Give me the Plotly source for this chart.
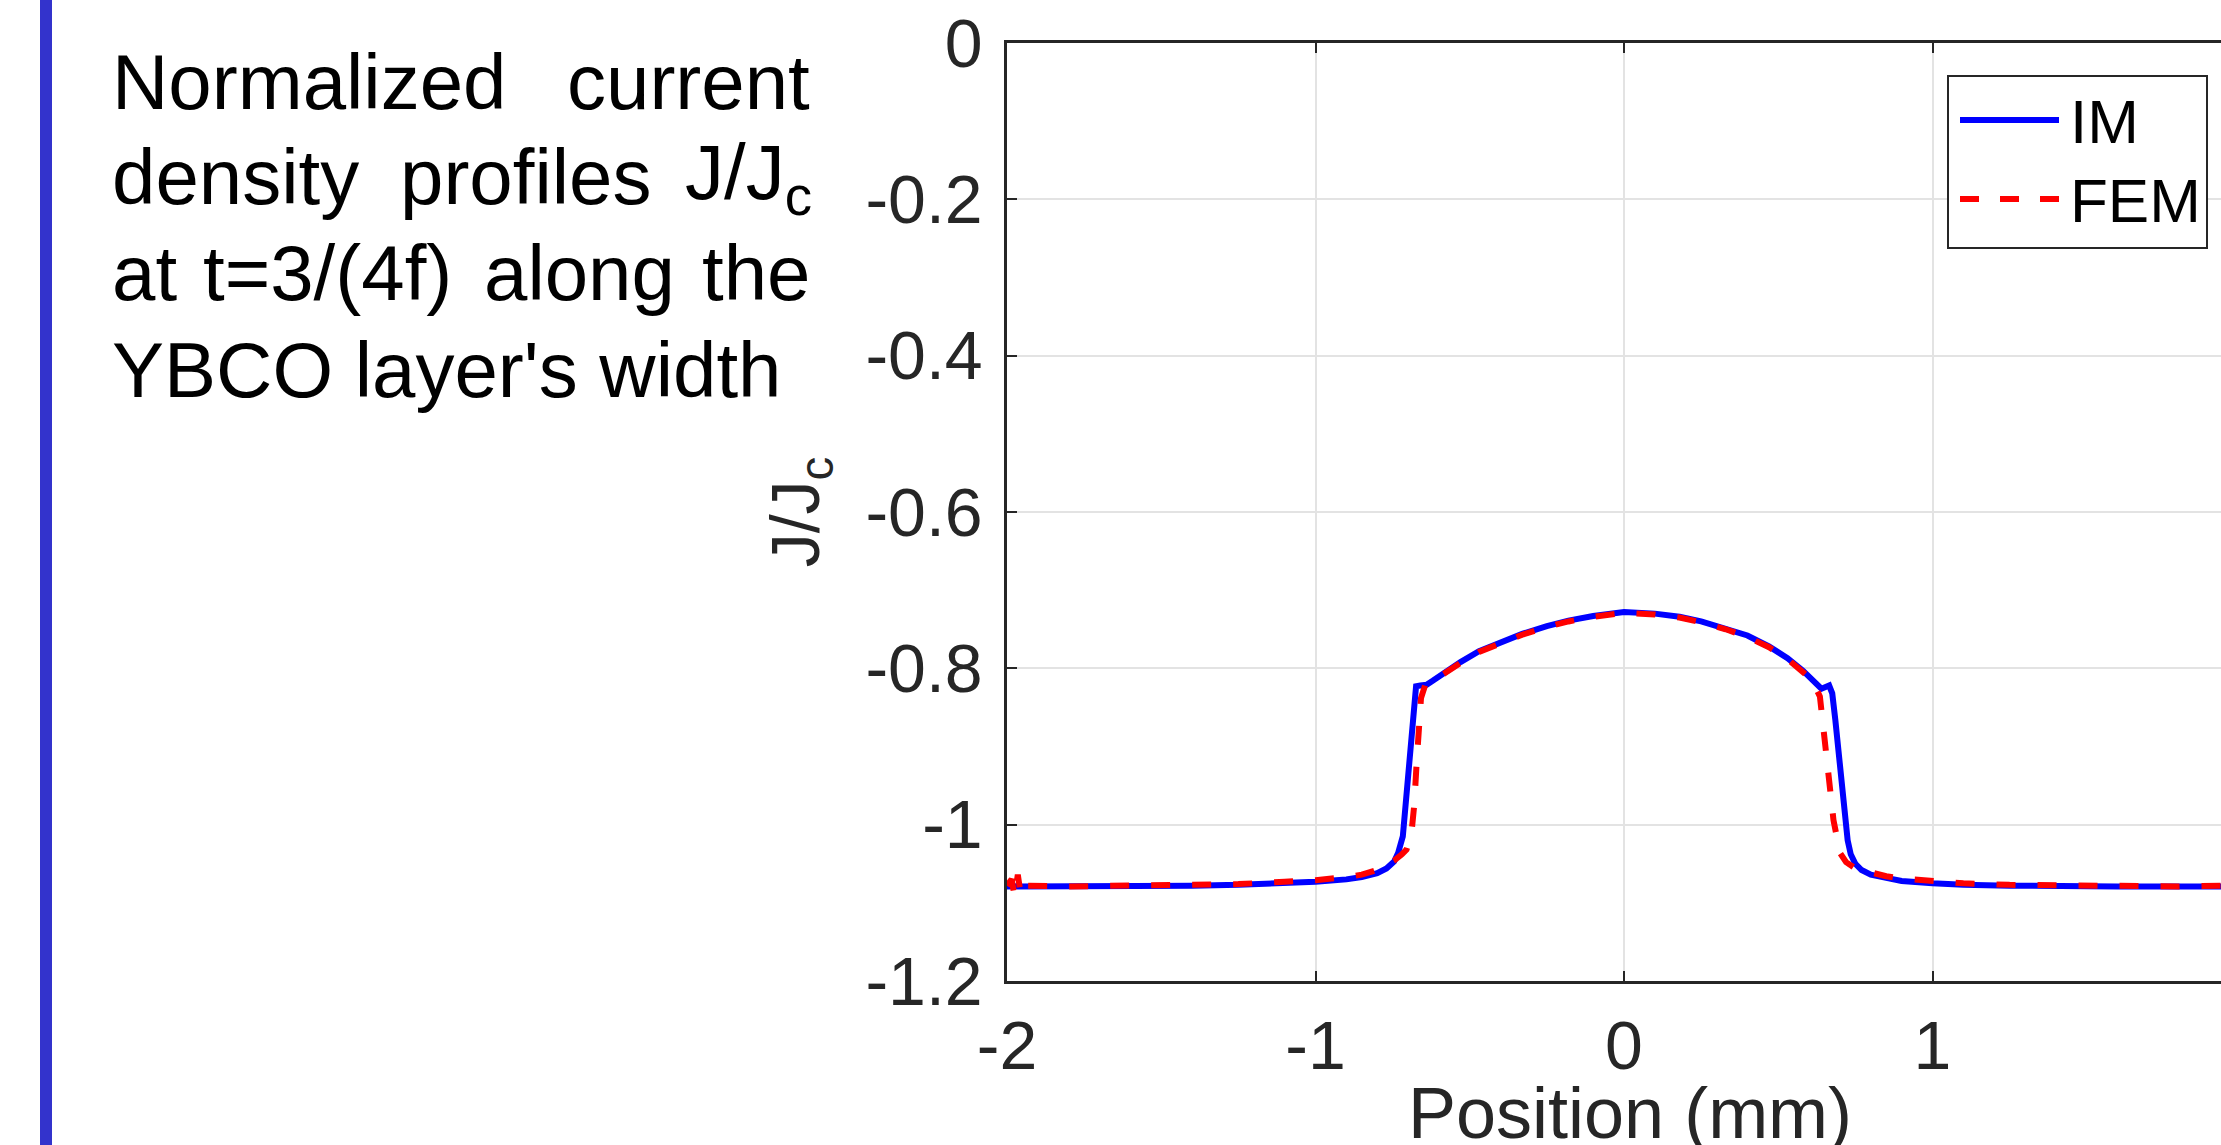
import plotly.graph_objects as go

# ---------------- data ----------------
im_x = [-2.00, -1.80, -1.60, -1.40, -1.25, -1.10, -1.00, -0.90, -0.85, -0.80,
        -0.77, -0.745, -0.732, -0.717, -0.703, -0.688, -0.674, -0.66, -0.64,
        -0.62, -0.58, -0.53, -0.47, -0.40, -0.33, -0.25, -0.18, -0.10, 0.00,
        0.10, 0.18, 0.25, 0.33, 0.40, 0.47, 0.53, 0.58, 0.61, 0.64, 0.665,
        0.675, 0.685, 0.695, 0.705, 0.715, 0.725, 0.735, 0.75, 0.77, 0.80,
        0.85, 0.90, 1.00, 1.10, 1.25, 1.40, 1.60, 1.80, 2.00]
im_y = [-1.079, -1.079, -1.078, -1.078, -1.077, -1.075, -1.073, -1.070, -1.067, -1.062,
        -1.056, -1.047, -1.036, -1.015, -0.951, -0.866, -0.823, -0.822, -0.821,
        -0.816, -0.805, -0.792, -0.778, -0.767, -0.756, -0.746, -0.739, -0.733, -0.728,
        -0.730, -0.734, -0.740, -0.749, -0.758, -0.772, -0.787, -0.803, -0.815, -0.826, -0.822,
        -0.832, -0.866, -0.905, -0.950, -0.990, -1.020, -1.038, -1.050, -1.058, -1.064,
        -1.068, -1.072, -1.075, -1.077, -1.078, -1.079, -1.079, -1.079, -1.079]

fem_x = [-2.00, -1.985, -1.975, -1.965, -1.955, -1.945, -1.80, -1.60, -1.40, -1.25,
         -1.10, -1.00, -0.90, -0.85, -0.80, -0.77, -0.745, -0.72, -0.705, -0.69,
         -0.68, -0.672, -0.665, -0.658, -0.645, -0.62, -0.58, -0.53, -0.47, -0.40,
         -0.33, -0.25, -0.18, -0.10, 0.00, 0.10, 0.18, 0.25, 0.33, 0.40, 0.47,
         0.53, 0.58, 0.61, 0.635, 0.65, 0.664, 0.679, 0.70, 0.72, 0.75, 0.80,
         0.85, 0.90, 1.00, 1.10, 1.25, 1.40, 1.60, 1.80, 1.945, 1.955, 1.965,
         1.975, 1.985, 2.00]
fem_y = [-1.078, -1.070, -1.092, -1.064, -1.090, -1.078, -1.079, -1.078, -1.077, -1.076,
         -1.073, -1.071, -1.067, -1.064, -1.058, -1.052, -1.046, -1.038, -1.032, -1.015,
         -0.975, -0.920, -0.870, -0.838, -0.822, -0.815, -0.806, -0.793, -0.779, -0.768,
         -0.757, -0.747, -0.740, -0.734, -0.729, -0.731, -0.735, -0.741, -0.750, -0.760, -0.773,
         -0.788, -0.804, -0.815, -0.836, -0.887, -0.943, -0.994, -1.036, -1.048, -1.056, -1.062,
         -1.066, -1.069, -1.072, -1.075, -1.077, -1.078, -1.079, -1.079, -1.078, -1.092, -1.064,
         -1.090, -1.070, -1.078]

x_ticks = [-2, -1, 0, 1, 2]
y_ticks = [0, -0.2, -0.4, -0.6, -0.8, -1, -1.2]
y_tick_text = ["0", "-0.2", "-0.4", "-0.6", "-0.8", "-1", "-1.2"]
series_names = ["IM", "FEM"]
x_title = "Position (mm)"
y_title = "J/J<sub>c</sub>"

# ---------------- layout geometry (pixels) ----------------
W, H = 2221, 1145
L, T, B = 1007, 43, 981          # plot area left, top, bottom (px)
PW, PH = W - L, B - T
X_PER_UNIT = 308.5
x_max = -2 + PW / X_PER_UNIT


def px_x(p):
    return (p - L) / PW


def px_y(p):
    return (B - p) / PH


FONT = "Liberation Sans, Arial, Helvetica, sans-serif"
AX = "#262626"

fig = go.Figure()
fig.add_trace(go.Scatter(x=im_x, y=im_y, mode="lines", name=series_names[0],
                         line=dict(color="#0000FF", width=6), showlegend=False))
fig.add_trace(go.Scatter(x=fem_x, y=fem_y, mode="lines", name=series_names[1],
                         line=dict(color="#FF0000", width=6, dash="19px,22px"),
                         showlegend=False))

shapes = []
annotations = []

# blue vertical bar at the left edge of the slide
shapes.append(dict(type="rect", xref="paper", yref="paper",
                   x0=px_x(40), x1=px_x(52), y0=px_y(H + 5), y1=px_y(-5),
                   fillcolor="#3333CC", line=dict(width=0), layer="above"))

# legend box (custom, to match long sample lines)
shapes.append(dict(type="rect", xref="paper", yref="paper",
                   x0=px_x(1948), x1=px_x(2207), y0=px_y(248), y1=px_y(76),
                   fillcolor="white", line=dict(color=AX, width=2), layer="above"))
shapes.append(dict(type="line", xref="paper", yref="paper",
                   x0=px_x(1960), x1=px_x(2059), y0=px_y(120), y1=px_y(120),
                   line=dict(color="#0000FF", width=6), layer="above"))
shapes.append(dict(type="line", xref="paper", yref="paper",
                   x0=px_x(1960), x1=px_x(2059), y0=px_y(199), y1=px_y(199),
                   line=dict(color="#FF0000", width=6, dash="19px,21px"), layer="above"))
for name, yc in zip(series_names, [122, 200]):
    annotations.append(dict(text=name, xref="paper", yref="paper",
                            x=px_x(2068), y=px_y(yc), xanchor="left", yanchor="middle",
                            showarrow=False, font=dict(family=FONT, size=62, color="black")))

# x axis title (placed explicitly: plot area runs past the right edge of the page)
annotations.append(dict(text=x_title, xref="paper", yref="paper",
                        x=px_x(1630), y=px_y(1113), xanchor="center", yanchor="middle",
                        showarrow=False, font=dict(family=FONT, size=72, color=AX)))

# descriptive text block (justified lines)
TF = dict(family=FONT, size=78, color="black")
text_words = [
    (82, [("Normalized", 110, "left"), ("current", 812, "right")]),
    (177, [("density", 110, "left"), ("profiles", 398, "left"), ("J/J<sub>c</sub>", 814, "right")]),
    (273, [("at", 110, "left"), ("t=3/(4f)", 201, "left"), ("along", 482, "left"), ("the", 812, "right")]),
    (370, [("YBCO layer's width", 110, "left")]),
]
for yc, words in text_words:
    for w, xp, anc in words:
        annotations.append(dict(text=w, xref="paper", yref="paper", x=px_x(xp), y=px_y(yc),
                                xanchor=anc, yanchor="middle", showarrow=False, font=TF))

fig.update_layout(
    width=W, height=H, autosize=False,
    margin=dict(l=L, r=0, t=T, b=H - B, pad=0),
    paper_bgcolor="white", plot_bgcolor="white",
    font=dict(family=FONT, color=AX),
    showlegend=False,
    shapes=shapes, annotations=annotations,
    xaxis=dict(range=[-2, x_max], tickvals=x_ticks, ticktext=[str(v) for v in x_ticks],
               showgrid=True, gridcolor="#e3e3e3", gridwidth=1.5,
               showline=True, linecolor=AX, linewidth=2.5, mirror="ticks",
               ticks="inside", ticklen=10, tickwidth=2, tickcolor=AX,
               tickfont=dict(family=FONT, size=68, color=AX),
               ticklabelstandoff=4, zeroline=False,
               automargin=False, fixedrange=True),
    yaxis=dict(range=[-1.2, 0], tickvals=y_ticks, ticktext=y_tick_text,
               showgrid=True, gridcolor="#e3e3e3", gridwidth=1.5,
               showline=True, linecolor=AX, linewidth=2.5, mirror=False,
               ticks="inside", ticklen=10, tickwidth=2, tickcolor=AX,
               tickfont=dict(family=FONT, size=68, color=AX),
               ticklabelstandoff=8, zeroline=False,
               title=dict(text=y_title, font=dict(family=FONT, size=68, color=AX),
                          standoff=24),
               automargin=False, fixedrange=True),
)

fig.write_html("out.html", config={"displayModeBar": False},
               post_script="document.body.style.margin='0';document.body.style.overflow='hidden';")
